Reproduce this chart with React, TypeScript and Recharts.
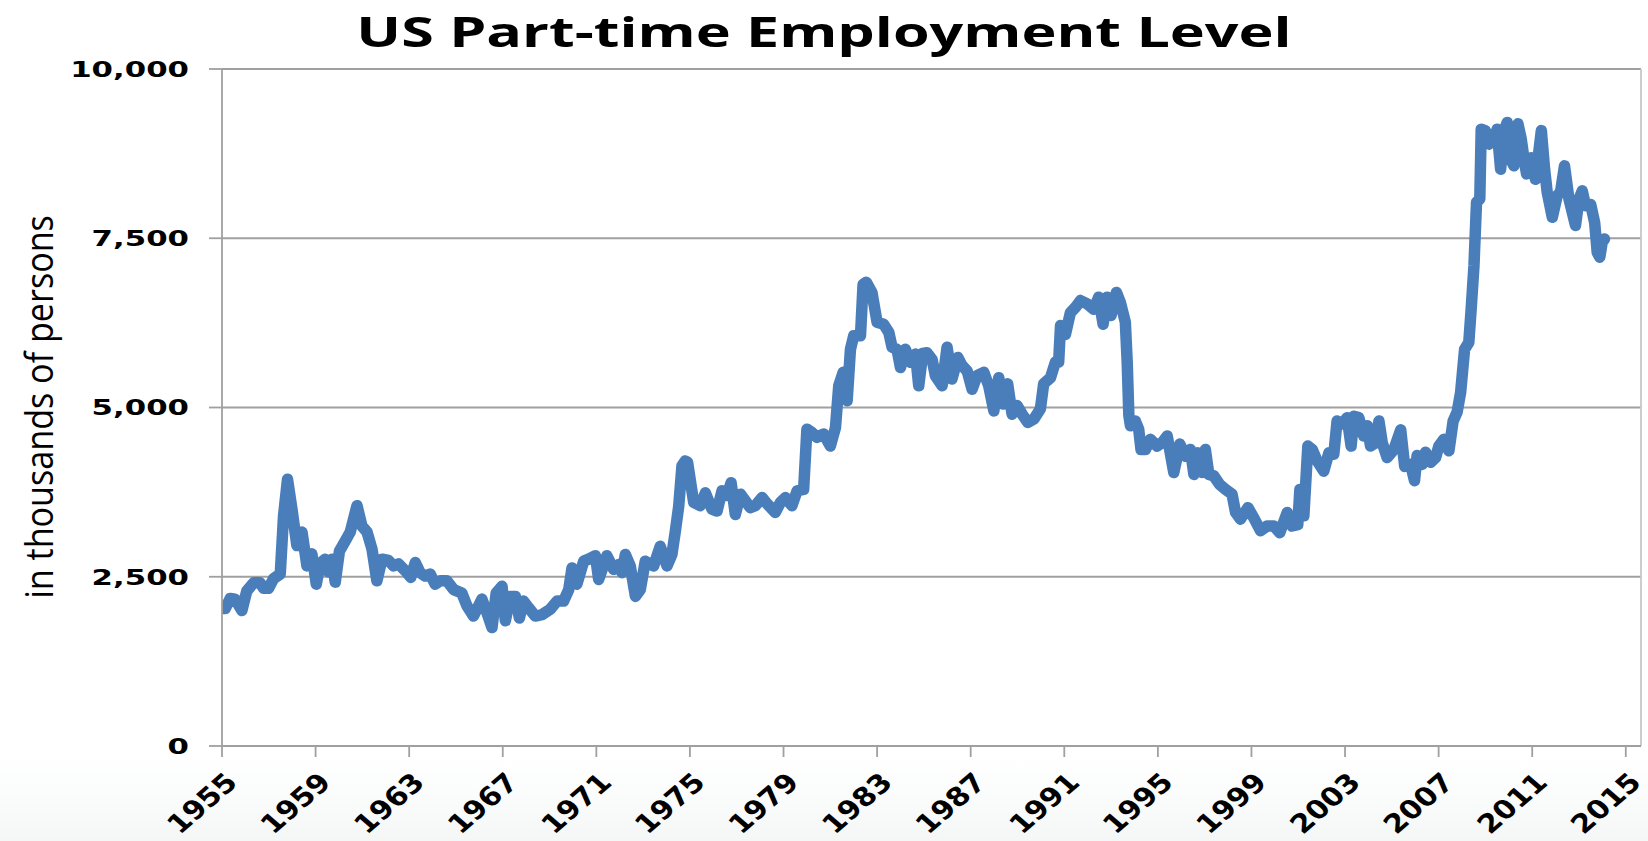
import { CartesianGrid, Line, LineChart, ReferenceLine, XAxis, YAxis } from 'recharts'

// readings, one per visible turn of the line
const years = [
  1955.0, 1955.14, 1955.35, 1955.56, 1955.85, 1956.06, 1956.35, 1956.63, 1956.78, 1956.99,
  1957.2, 1957.49, 1957.63, 1957.8, 1957.99, 1958.2, 1958.42, 1958.63, 1958.84, 1959.03,
  1959.2, 1959.41, 1959.56, 1959.7, 1959.84, 1960.02, 1960.27, 1960.48, 1960.77, 1960.98,
  1961.2, 1961.41, 1961.62, 1961.84, 1962.12, 1962.33, 1962.55, 1962.83, 1963.07, 1963.26,
  1963.47, 1963.69, 1963.9, 1964.11, 1964.33, 1964.61, 1964.9, 1965.25, 1965.47, 1965.75,
  1966.11, 1966.32, 1966.54, 1966.72, 1966.97, 1967.11, 1967.32, 1967.54, 1967.71, 1967.89,
  1968.11, 1968.39, 1968.68, 1969.03, 1969.32, 1969.6, 1969.82, 1969.96, 1970.17, 1970.46,
  1970.67, 1970.96, 1971.1, 1971.45, 1971.74, 1971.95, 1972.1, 1972.24, 1972.45, 1972.67,
  1972.88, 1973.09, 1973.45, 1973.73, 1974.02, 1974.23, 1974.38, 1974.52, 1974.66, 1974.8,
  1974.9, 1975.16, 1975.44, 1975.66, 1975.94, 1976.16, 1976.37, 1976.59, 1976.76, 1976.94,
  1977.16, 1977.37, 1977.58, 1977.8, 1978.08, 1978.32, 1978.65, 1978.87, 1979.08, 1979.36,
  1979.58, 1979.86, 1980.0, 1980.22, 1980.43, 1980.72, 1981.0, 1981.22, 1981.36, 1981.55,
  1981.72, 1981.86, 1982.0, 1982.29, 1982.4, 1982.54, 1982.78, 1983.0, 1983.28, 1983.5,
  1983.64, 1983.85, 1984.0, 1984.21, 1984.42, 1984.64, 1984.78, 1984.95, 1985.13, 1985.35,
  1985.49, 1985.78, 1985.99, 1986.2, 1986.45, 1986.63, 1986.85, 1987.06, 1987.27, 1987.56,
  1987.77, 1987.99, 1988.2, 1988.38, 1988.58, 1988.77, 1988.98, 1989.2, 1989.44, 1989.7,
  1989.98, 1990.12, 1990.41, 1990.62, 1990.76, 1990.84, 1991.05, 1991.26, 1991.48, 1991.69,
  1991.98, 1992.26, 1992.47, 1992.66, 1992.83, 1993.0, 1993.23, 1993.4, 1993.61, 1993.69,
  1993.76, 1993.83, 1994.04, 1994.18, 1994.28, 1994.47, 1994.68, 1994.97, 1995.18, 1995.4,
  1995.68, 1995.94, 1996.18, 1996.39, 1996.54, 1996.71, 1996.89, 1997.03, 1997.18, 1997.39,
  1997.65, 1997.89, 1998.17, 1998.32, 1998.53, 1998.85, 1999.1, 1999.39, 1999.67, 1999.96,
  2000.21, 2000.53, 2000.74, 2000.98, 2001.07, 2001.24, 2001.41, 2001.6, 2001.81, 2002.09,
  2002.31, 2002.52, 2002.66, 2002.88, 2003.09, 2003.26, 2003.38, 2003.59, 2003.8, 2003.95,
  2004.09, 2004.3, 2004.45, 2004.59, 2004.8, 2005.09, 2005.38, 2005.55, 2005.8, 2005.97,
  2006.08, 2006.3, 2006.44, 2006.66, 2006.87, 2007.01, 2007.22, 2007.44, 2007.62, 2007.79,
  2007.94, 2008.11, 2008.29, 2008.39, 2008.51, 2008.62, 2008.76, 2008.82, 2009.0, 2009.15,
  2009.36, 2009.5, 2009.65, 2009.82, 2009.93, 2010.07, 2010.22, 2010.39, 2010.53, 2010.65,
  2010.76, 2010.96, 2011.14, 2011.39, 2011.53, 2011.64, 2011.86, 2012.07, 2012.21, 2012.38,
  2012.57, 2012.85, 2013.0, 2013.14, 2013.28, 2013.5, 2013.67, 2013.78, 2013.89, 2013.99,
  2014.09,
]

const partTime = [
  2030, 2030, 2180, 2170, 2000, 2290, 2410, 2410, 2330, 2330,
  2470, 2540, 3400, 3940, 3500, 2960, 3160, 2660, 2840, 2390,
  2700, 2760, 2570, 2760, 2420, 2880, 3030, 3160, 3550, 3250,
  3160, 2910, 2440, 2760, 2740, 2660, 2690, 2590, 2490, 2710,
  2560, 2510, 2540, 2390, 2440, 2440, 2310, 2260, 2070, 1920,
  2170, 1970, 1750, 2260, 2360, 1850, 2210, 2210, 1890, 2140,
  2040, 1920, 1940, 2020, 2140, 2140, 2310, 2630, 2390, 2730,
  2760, 2810, 2460, 2810, 2610, 2680, 2560, 2830, 2660, 2210,
  2310, 2730, 2660, 2950, 2660, 2830, 3180, 3540, 4140, 4210,
  4190, 3600, 3550, 3740, 3500, 3470, 3770, 3700, 3890, 3420,
  3720, 3620, 3520, 3550, 3670, 3570, 3450, 3600, 3670, 3550,
  3770, 3790, 4680, 4630, 4560, 4610, 4430, 4700, 5320, 5520,
  5100, 5860, 6060, 6060, 6820, 6850, 6700, 6260, 6230, 6110,
  5890, 5860, 5590, 5860, 5670, 5790, 5320, 5800, 5810, 5710,
  5470, 5320, 5890, 5420, 5740, 5620, 5540, 5270, 5470, 5520,
  5320, 4950, 5440, 5050, 5350, 4900, 5030, 4900, 4780, 4830,
  4980, 5350, 5440, 5670, 5670, 6210, 6080, 6400, 6480, 6580,
  6530, 6450, 6630, 6230, 6630, 6360, 6700, 6550, 6260, 5670,
  4880, 4730, 4800, 4680, 4380, 4380, 4530, 4430, 4480, 4580,
  4040, 4460, 4280, 4380, 4010, 4330, 4040, 4380, 4010, 3990,
  3860, 3790, 3720, 3450, 3350, 3520, 3370, 3180, 3250, 3250,
  3150, 3450, 3250, 3270, 3790, 3400, 4430, 4380, 4210, 4060,
  4330, 4310, 4800, 4760, 4850, 4430, 4870, 4850, 4580, 4730,
  4430, 4480, 4800, 4480, 4260, 4380, 4670, 4130, 4160, 3920,
  4290, 4160, 4340, 4190, 4260, 4430, 4530, 4360, 4800, 4930,
  5220, 5860, 5960, 6450, 7090, 8030, 8080, 9110, 9090, 8890,
  8970, 9110, 8520, 9110, 9210, 8670, 8570, 9190, 8970, 8670,
  8450, 8690, 8370, 9090, 8520, 8180, 7810, 8130, 8180, 8570,
  8080, 7690, 8080, 8200, 7980, 8000, 7730, 7290, 7220, 7440,
  7490,
]

const yearTicks = [1955, 1959, 1963, 1967, 1971, 1975, 1979, 1983, 1987, 1991, 1995, 1999, 2003, 2007, 2011, 2015]
const valueTicks = [0, 2500, 5000, 7500, 10000]
const X_MAX = 2015.65

const data = years.map((year, i) => ({ year, value: partTime[i] }))

// the source picture is stretched sideways, so the text gets the same stretch
const STRETCH = 1.4
const GRID = '#a0a0a0'

function YTick({ x, y, payload }: any) {
  return (
    <text
      transform={`translate(${x},${y}) scale(${STRETCH},1)`}
      textAnchor="end"
      dy="0.36em"
      fontFamily="'DejaVu Sans'"
      fontWeight="bold"
      fontSize={22}
      fill="#000"
    >
      {Number(payload.value).toLocaleString('en-US')}
    </text>
  )
}

function XTick({ x, y, payload }: any) {
  return (
    <text
      transform={`translate(${x + 17},${y + 27}) scale(1.16,1) rotate(-45)`}
      textAnchor="end"
      fontFamily="'DejaVu Sans'"
      fontWeight="bold"
      fontSize={26}
      fill="#000"
    >
      {payload.value}
    </text>
  )
}

export default function App() {
  return (
    <div
      style={{
        position: 'absolute',
        left: 0,
        top: 0,
        width: 1648,
        height: 841,
        overflow: 'hidden',
        background: 'linear-gradient(to bottom, #ffffff 0px, #ffffff 760px, #f5f7f7 841px)',
      }}
    >
      <div
        style={{
          position: 'absolute',
          left: 0,
          top: 10,
          width: 1648,
          textAlign: 'center',
          fontFamily: "'Open Sans', sans-serif",
          fontWeight: 700,
          fontSize: 42,
          lineHeight: '42px',
          color: '#000',
          transform: 'scaleX(1.41)',
          whiteSpace: 'nowrap',
        }}
      >
        US Part-time Employment Level
      </div>
      <div style={{ position: 'absolute', left: 39, top: 407, width: 0, height: 0 }}>
        <span
          style={{
            position: 'absolute',
            left: 0,
            top: 0,
            whiteSpace: 'nowrap',
            fontFamily: "'Open Sans', sans-serif",
            fontSize: 31,
            lineHeight: '31px',
            color: '#000',
            transform: 'translate(-50%,-50%) rotate(-90deg) scale(1.1,1.25)',
          }}
        >
          in thousands of persons
        </span>
      </div>
      <LineChart width={1648} height={841} data={data} margin={{ top: 69, right: 7, bottom: 15, left: 122 }}>
        <CartesianGrid horizontal vertical={false} stroke={GRID} strokeWidth={1.8} />
        <XAxis
          dataKey="year"
          type="number"
          domain={[1955, X_MAX]}
          ticks={yearTicks}
          allowDataOverflow
          height={80}
          interval={0}
          stroke={GRID}
          strokeWidth={1.8}
          tickSize={11}
          tickMargin={0}
          tick={<XTick />}
        />
        <YAxis
          domain={[0, 10000]}
          ticks={valueTicks}
          width={100}
          interval={0}
          stroke={GRID}
          strokeWidth={1.8}
          tickSize={13}
          tickMargin={20}
          tick={<YTick />}
        />
        <ReferenceLine x={X_MAX} stroke="#c8c8c8" strokeWidth={1.8} />
        <Line
          dataKey="value"
          type="linear"
          stroke="#4a7ebb"
          strokeWidth={11.5}
          strokeLinejoin="round"
          strokeLinecap="round"
          dot={false}
          isAnimationActive={false}
        />
      </LineChart>
    </div>
  )
}
